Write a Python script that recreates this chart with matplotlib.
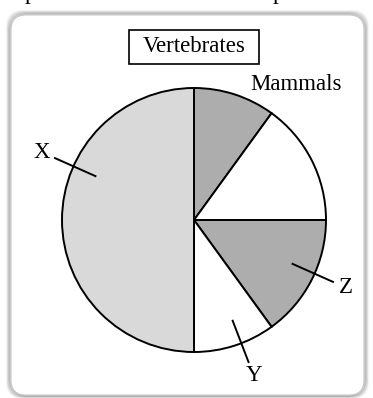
import numpy as np
import matplotlib
matplotlib.use("Agg")
import matplotlib.pyplot as plt
from matplotlib.patches import FancyBboxPatch, Rectangle

# ---- data ----
title = "Vertebrates"
group_label = "Mammals"
values = [10, 15, 15, 10, 50]          # clockwise from 12 o'clock
colors = ["#adadad", "#ffffff", "#adadad", "#ffffff", "#d9d9d9"]
slice_labels = ["", "", "Z", "Y", "X"]
label_offsets = [0, 0, 3, 3, -24]      # degrees added to wedge mid-angle for label placement

W, H = 373, 398
fig = plt.figure(figsize=(W / 100, H / 100), dpi=100)
ax = fig.add_axes([0, 0, 1, 1])
ax.set_xlim(0, W)
ax.set_ylim(0, H)
ax.set_aspect("equal")
ax.axis("off")

font = ["Liberation Serif", "DejaVu Serif"]
fs = 16.5

# cropped title descenders at very top
ax.text(30, H + 1, "p", fontsize=fs, family=font, ha="center", va="baseline", color="black")
ax.text(278, H + 1, "p", fontsize=fs, family=font, ha="center", va="baseline", color="black")

# frame with soft shadow
fx0, fy0, fx1, fy1 = 11, 3, 364, 383
for i, a in enumerate(np.linspace(0.10, 0.02, 7)):
    d = i + 1
    ax.add_patch(FancyBboxPatch((fx0 - d * 0.6, fy0 - d * 0.4), fx1 - fx0 + d * 1.2, fy1 - fy0 + d * 1.0,
                                boxstyle="round,pad=0,rounding_size=16", fc="none",
                                ec=(0, 0, 0, a), lw=1.6))
ax.add_patch(FancyBboxPatch((fx0, fy0), fx1 - fx0, fy1 - fy0,
                            boxstyle="round,pad=0,rounding_size=15", fc="white",
                            ec="#c8c8c8", lw=0.8))

cx, cy, r = 194, 178, 132
wedges, _ = ax.pie(values, colors=colors, startangle=90, counterclock=False,
                   center=(cx, cy), radius=r,
                   wedgeprops=dict(edgecolor="black", linewidth=1.4))
ax.set_xlim(0, W)
ax.set_ylim(0, H)

for w, lab, off in zip(wedges, slice_labels, label_offsets):
    if not lab:
        continue
    ang = np.deg2rad((w.theta1 + w.theta2) / 2 + off)
    c, s = np.cos(ang), np.sin(ang)
    ax.plot([cx + 0.81 * r * c, cx + 1.16 * r * c], [cy + 0.81 * r * s, cy + 1.16 * r * s],
            color="black", lw=1.4, solid_capstyle="butt")
    ax.text(cx + 1.26 * r * c, cy + 1.26 * r * s, lab, fontsize=fs, family=font,
            ha="center", va="center")

# group label for the first two wedges
g_ang = np.deg2rad(53)
ax.text(cx + 1.29 * r * np.cos(g_ang), cy + 1.29 * r * np.sin(g_ang), group_label,
        fontsize=fs, family=font, ha="center", va="center")

# title box
ty = 351
ax.add_patch(Rectangle((cx - 65, ty - 17), 130, 34, fc="white", ec="black", lw=1.2))
ax.text(cx, ty, title, fontsize=fs, family=font, ha="center", va="center")

fig.savefig("out.png", dpi=100)
